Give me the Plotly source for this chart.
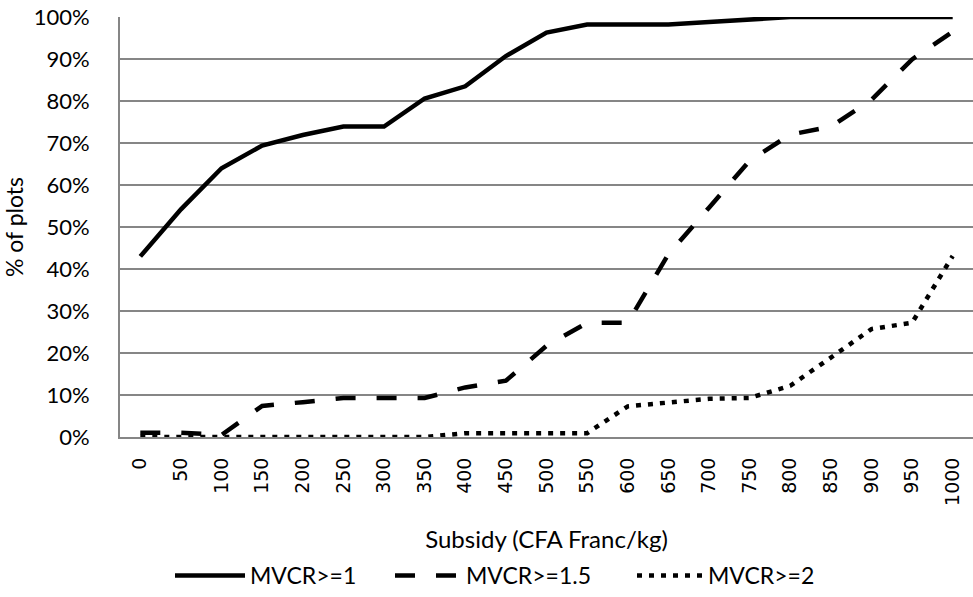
import plotly.graph_objects as go

subsidy = ["0", "50", "100", "150", "200", "250", "300", "350", "400", "450", "500",
           "550", "600", "650", "700", "750", "800", "850", "900", "950", "1000"]

mvcr_1 = [43.0, 54.2, 64.0, 69.4, 71.9, 73.9, 73.9, 80.6, 83.5, 90.7, 96.3,
          98.2, 98.2, 98.2, 98.8, 99.4, 100.0, 100.0, 100.0, 100.0, 100.0]
mvcr_15 = [1.0, 1.0, 0.5, 7.4, 8.3, 9.3, 9.3, 9.3, 11.8, 13.4, 21.7,
           27.2, 27.2, 43.5, 54.6, 65.8, 72.0, 73.9, 80.3, 89.9, 96.5]
mvcr_2 = [0.0, 0.0, 0.0, 0.0, 0.0, 0.0, 0.0, 0.0, 0.9, 0.9, 0.9,
          0.9, 7.3, 8.3, 9.1, 9.3, 12.2, 18.9, 25.7, 27.2, 43.1]

series_names = ["MVCR>=1", "MVCR>=1.5", "MVCR>=2"]

FONT = "Lato"
FS = 23

L, R, T, B = 120, 0, 17, 159
W, H = 973, 597
PW = W - L - R
PH = H - T - B


def px_x(p):
    return (p - L) / PW


def px_y(p):
    return (H - B - p) / PH


fig = go.Figure()
fig.add_trace(go.Scatter(x=subsidy, y=[v / 100 for v in mvcr_1], mode="lines",
                         name=series_names[0], legend="legend",
                         line=dict(color="black", width=4.5)))
fig.add_trace(go.Scatter(x=subsidy, y=[v / 100 for v in mvcr_15], mode="lines",
                         name=series_names[1], legend="legend2",
                         line=dict(color="black", width=4.5, dash="20px,21px")))
fig.add_trace(go.Scatter(x=subsidy, y=[v / 100 for v in mvcr_2], mode="lines",
                         name=series_names[2], legend="legend3",
                         line=dict(color="black", width=4.5, dash="5px,7px")))


def leg(start_px, iw=70):
    return dict(orientation="h", x=px_x(start_px - 5), xanchor="left",
                y=px_y(577), yanchor="middle", itemwidth=iw,
                bgcolor="rgba(0,0,0,0)",
                font=dict(family=FONT, size=FS, color="black"))


fig.update_layout(
    width=W, height=H,
    margin=dict(l=L, r=R, t=T, b=B),
    paper_bgcolor="white", plot_bgcolor="white",
    font=dict(family=FONT, size=FS, color="black"),
    showlegend=True,
    legend=leg(175),
    legend2=leg(395, 66),
    legend3=leg(637, 66),
    xaxis=dict(
        type="category", range=[-0.5, 20.5],
        showgrid=False, showline=True, linecolor="#868686", linewidth=2,
        ticks="", tickangle=-90,
        tickfont=dict(family="DejaVu Sans", size=19, color="black"),
        ticklabelstandoff=11,
        title=dict(text="Subsidy (CFA Franc/kg)", standoff=26,
                   font=dict(family=FONT, size=24, color="black")),
        fixedrange=True,
    ),
    yaxis=dict(
        range=[0, 1], dtick=0.1, tickformat=".0%",
        showgrid=True, gridcolor="#868686", gridwidth=1.5,
        showline=True, linecolor="#868686", linewidth=2,
        zeroline=False, ticks="",
        ticklabelstandoff=24,
        tickfont=dict(family=FONT, size=22, color="black"),
        title=dict(text="% of plots", standoff=12,
                   font=dict(family=FONT, size=FS, color="black")),
        fixedrange=True,
    ),
)

fig.write_html("out.html", config={"displayModeBar": False},
               post_script="document.body.style.margin='0';")
